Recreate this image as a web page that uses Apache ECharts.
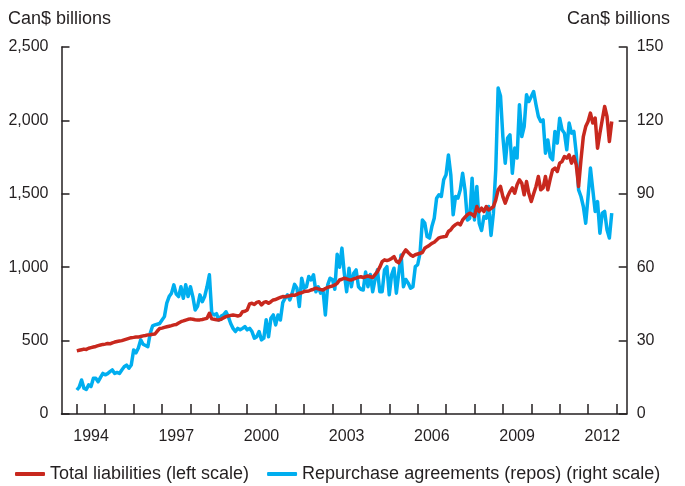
<!DOCTYPE html>
<html>
<head>
<meta charset="utf-8">
<script src="https://cdn.jsdelivr.net/npm/echarts@6/dist/echarts.min.js"></script>
<style>
html,body{margin:0;padding:0;background:#fff;}
#chart{width:685px;height:486px;}
</style>
</head>
<body>
<div id="chart"></div>
<script>
// Monthly observations, January 1994 to November 2012
var startYear = 1994;
var seriesNames = ['Total liabilities (left scale)', 'Repurchase agreements (repos) (right scale)'];
var yearTicks = [1994,1995,1996,1997,1998,1999,2000,2001,2002,2003,2004,2005,2006,2007,2008,2009,2010,2011,2012,2013];
var yearLabels = [1994,1997,2000,2003,2006,2009,2012];
var leftTicks = [0,500,1000,1500,2000,2500];
var rightTicks = [0,30,60,90,120,150];

// Total liabilities, Can$ billions (left scale)
var totalLiabilities = [
 430,434,438,442,440,448,452,456,460,466,470,474,
 476,480,478,485,490,494,497,500,505,510,515,520,
 522,525,524,528,532,535,539,540,543,545,565,582,
 585,590,594,598,602,607,610,620,629,634,640,645,
 648,645,642,640,641,644,648,652,686,648,645,642,
 641,645,655,663,668,672,675,672,668,672,697,700,
 709,750,754,746,760,765,743,760,765,754,765,777,
 780,788,794,800,798,803,806,811,808,815,823,826,
 834,836,838,845,850,857,852,848,845,855,862,868,
 872,879,890,913,918,925,920,915,913,920,926,932,
 935,930,935,940,935,930,950,970,1000,1038,1050,1045,
 1050,1060,1072,1040,1030,1060,1095,1118,1100,1084,1075,1085,
 1090,1095,1100,1129,1140,1150,1163,1170,1185,1200,1205,1208,
 1210,1243,1255,1277,1290,1300,1288,1322,1340,1357,1368,1360,
 1345,1413,1379,1402,1379,1413,1390,1400,1413,1459,1527,1550,
 1481,1436,1481,1515,1540,1504,1561,1595,1572,1493,1584,1500,
 1447,1500,1550,1618,1527,1540,1618,1527,1600,1663,1675,1652,
 1709,1720,1754,1743,1765,1709,1754,1697,1550,1731,1890,1958,
 1993,2050,1982,2016,1811,1913,2004,2095,2027,1856,1993
];

// Repurchase agreements, Can$ billions (right scale)
var repos = [
 9.8,11,13.9,10.5,10,11.9,11.2,14.6,14.6,13.2,15,16.6,
 16,16.5,17.3,18,16.6,17,16.6,18,19.3,20,18.7,20,
 26.2,25,27,30.3,28.5,28,27.5,33,36,36.4,36.7,37,
 38.4,39.8,45.3,48,49.4,52.8,49,48,52,47.3,52.8,48,
 52,48,42.5,44,48.7,45.9,48,52,56.9,41.2,40.5,41,
 38.4,40,40.5,41.8,39.8,37,35,33.7,35,34.4,35,35.7,
 34.4,35,33.7,31,31.6,33.7,30.3,31,38.5,31.6,39.1,40.5,
 36.4,40.5,38.4,45.5,47.3,48.7,46.6,49.4,53,51.4,43.9,55.5,
 51.4,52,56.2,54.8,56.9,50,52,49.4,50.7,40.5,52.8,55.5,
 55,51,65.3,60,67.8,57.5,50,59.6,52,57.5,58.9,52,
 51,50.7,58,52,57,50,55,58.9,50,50,58.9,60.2,
 48.7,56.9,59.6,49.4,57.5,65,52,55,53.5,51.4,52,60.2,
 61,65.7,79.3,78,72.5,71.9,76.6,80,88.2,89.6,88.9,95.7,
 97.8,105.9,97.8,81.4,88.9,88.2,91.6,98.4,91.6,79.3,80,96.4,
 79.3,93,78,75,80.7,80,84.8,73,82.1,100,133.2,130,
 113.4,102.5,112.8,114.1,98.4,108.7,104.6,126.4,113.4,117.5,130.5,127.7,
 129.8,131.8,126.4,121.6,119.6,120.2,106.6,112,105.2,103.9,115.5,110.7,
 120.9,116.2,114.8,108,118.9,114.8,115.5,106.6,91.6,88.9,84.8,78,
 88.9,100.5,91.6,82.8,86.8,73.9,82.1,82.8,75.3,71.9,82.1
];

function toPairs(vals){
  return vals.map(function(v,i){ return [startYear + i/12, v]; });
}
function commaFmt(v){ return String(v).replace(/\B(?=(\d{3})+(?!\d))/g, ','); }

var FONT = '"Liberation Sans", Arial, Helvetica, sans-serif';
var TXT = '#231f20';
var AX = '#231f20';
var RED = '#c8281e';
var BLUE = '#00aeef';

var chart = echarts.init(document.getElementById('chart'), null, {renderer:'canvas'});
chart.setOption({
  animation:false,
  backgroundColor:'#fff',
  textStyle:{fontFamily:FONT},
  grid:{left:61.5, right:58.3, top:47, bottom:72, containLabel:false},
  graphic:[
    {type:'text', left:8, top:10, style:{text:'Can$ billions', fill:TXT, font:'18px '+FONT}},
    {type:'text', right:15, top:10, style:{text:'Can$ billions', fill:TXT, font:'18px '+FONT}}
  ],
  legend:{
    left:10, top:460,
    itemWidth:30, itemHeight:4, itemGap:18,
    icon:'roundRect',
    textStyle:{color:TXT, fontSize:18, fontFamily:FONT},
    data:seriesNames
  },
  xAxis:{
    type:'value', min:1993.46, max:2013.36,
    axisLine:{show:true, onZero:false, lineStyle:{color:AX, width:1.5}},
    axisTick:{show:true, inside:true, length:10, customValues:yearTicks, lineStyle:{color:AX, width:1.5}},
    axisLabel:{show:true, customValues:yearLabels.map(function(y){return y+0.5;}),
      formatter:function(v){ return String(Math.floor(v)); },
      color:TXT, fontSize:16, fontFamily:FONT, margin:15},
    splitLine:{show:false}
  },
  yAxis:[
    {type:'value', position:'left', min:0, max:2500, interval:500,
      axisLine:{show:true, lineStyle:{color:AX, width:1.5}},
      axisTick:{show:true, inside:true, length:8, lineStyle:{color:AX, width:1.5}},
      axisLabel:{color:TXT, fontSize:16, fontFamily:FONT, margin:13, formatter:commaFmt},
      splitLine:{show:false}},
    {type:'value', position:'right', min:0, max:150, interval:30,
      axisLine:{show:true, lineStyle:{color:AX, width:1.5}},
      axisTick:{show:true, inside:true, length:8, lineStyle:{color:AX, width:1.5}},
      axisLabel:{color:TXT, fontSize:16, fontFamily:FONT, margin:10},
      splitLine:{show:false}}
  ],
  series:[
    {name:seriesNames[1], type:'line', yAxisIndex:1, data:toPairs(repos),
      showSymbol:false, symbol:'none', color:BLUE,
      lineStyle:{color:BLUE, width:3.5, join:'round'}},
    {name:seriesNames[0], type:'line', yAxisIndex:0, data:toPairs(totalLiabilities),
      showSymbol:false, symbol:'none', color:RED,
      lineStyle:{color:RED, width:3.5, join:'round'}}
  ]
});
</script>
</body>
</html>
